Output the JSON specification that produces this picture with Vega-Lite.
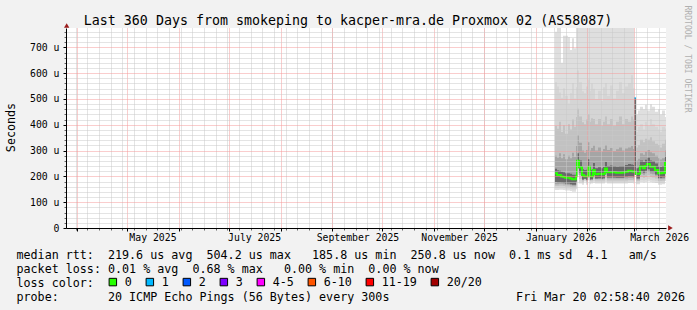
{
  "$schema": "https://vega.github.io/schema/vega-lite/v6.json",
  "width": 600,
  "height": 200,
  "autosize": {"type": "none"},
  "padding": {"left": 66, "top": 28, "right": 31, "bottom": 82},
  "background": "#f2f2f2",
  "config": {
    "view": {"stroke": null, "fill": "#ffffff"},
    "font": "DejaVu Sans Mono",
    "axis": {"labelFont": "DejaVu Sans Mono", "titleFont": "DejaVu Sans Mono", "titleFontWeight": "normal", "titleColor": "#000000", "labelColor": "#000000"}
  },
  "datasets": {
    "smoke": [
      {"t": "2026-01-12T12:00:00Z", "b1": 147, "b2": 155, "b3": 163, "b4": 170, "b5": 178, "m": 212, "t5": 230, "t4": 280, "t3": 395, "t2": 565, "t1": 760, "loss": "0"},
      {"t": "2026-01-13T17:00:00Z", "b1": 147, "b2": 155, "b3": 163, "b4": 170, "b5": 176, "m": 205, "t5": 224, "t4": 272, "t3": 385, "t2": 548, "t1": 775, "loss": "0"},
      {"t": "2026-01-14T22:00:00Z", "b1": 148, "b2": 156, "b3": 164, "b4": 171, "b5": 176, "m": 205, "t5": 222, "t4": 290, "t3": 412, "t2": 525, "t1": 775, "loss": "0"},
      {"t": "2026-01-16T03:00:00Z", "b1": 148, "b2": 156, "b3": 164, "b4": 171, "b5": 175, "m": 200, "t5": 218, "t4": 270, "t3": 372, "t2": 505, "t1": 640, "loss": "0"},
      {"t": "2026-01-17T08:00:00Z", "b1": 147, "b2": 155, "b3": 163, "b4": 170, "b5": 174, "m": 198, "t5": 216, "t4": 286, "t3": 398, "t2": 542, "t1": 745, "loss": "0"},
      {"t": "2026-01-18T12:00:00Z", "b1": 145, "b2": 153, "b3": 161, "b4": 168, "b5": 172, "m": 195, "t5": 212, "t4": 266, "t3": 365, "t2": 512, "t1": 745, "loss": "0"},
      {"t": "2026-01-20T08:00:00Z", "b1": 145, "b2": 153, "b3": 161, "b4": 168, "b5": 172, "m": 195, "t5": 212, "t4": 280, "t3": 402, "t2": 482, "t1": 740, "loss": "0"},
      {"t": "2026-01-21T12:00:00Z", "b1": 143, "b2": 151, "b3": 159, "b4": 166, "b5": 170, "m": 192, "t5": 210, "t4": 270, "t3": 382, "t2": 522, "t1": 690, "loss": "0"},
      {"t": "2026-01-22T17:00:00Z", "b1": 140, "b2": 149, "b3": 157, "b4": 164, "b5": 168, "m": 189, "t5": 206, "t4": 292, "t3": 420, "t2": 562, "t1": 735, "loss": "0"},
      {"t": "2026-01-23T22:00:00Z", "b1": 140, "b2": 149, "b3": 157, "b4": 164, "b5": 168, "m": 189, "t5": 206, "t4": 275, "t3": 392, "t2": 502, "t1": 697, "loss": "0"},
      {"t": "2026-01-25T03:00:00Z", "b1": 150, "b2": 158, "b3": 166, "b4": 174, "b5": 180, "m": 201, "t5": 225, "t4": 318, "t3": 430, "t2": 545, "t1": 775, "loss": "0"},
      {"t": "2026-01-25T17:00:00Z", "b1": 205, "b2": 215, "b3": 228, "b4": 238, "b5": 245, "m": 261, "t5": 290, "t4": 360, "t3": 462, "t2": 610, "t1": 775, "loss": "0"},
      {"t": "2026-01-26T22:00:00Z", "b1": 172, "b2": 180, "b3": 190, "b4": 205, "b5": 215, "m": 235, "t5": 262, "t4": 330, "t3": 432, "t2": 565, "t1": 775, "loss": "0"},
      {"t": "2026-01-28T17:00:00Z", "b1": 168, "b2": 174, "b3": 180, "b4": 186, "b5": 188, "m": 205, "t5": 228, "t4": 300, "t3": 410, "t2": 530, "t1": 775, "loss": "0"},
      {"t": "2026-01-29T22:00:00Z", "b1": 180, "b2": 184, "b3": 188, "b4": 190, "b5": 191, "m": 201, "t5": 225, "t4": 292, "t3": 402, "t2": 522, "t1": 775, "loss": "0"},
      {"t": "2026-01-31T03:00:00Z", "b1": 168, "b2": 174, "b3": 180, "b4": 185, "b5": 187, "m": 201, "t5": 226, "t4": 302, "t3": 420, "t2": 548, "t1": 775, "loss": "0"},
      {"t": "2026-02-01T08:00:00Z", "b1": 185, "b2": 195, "b3": 208, "b4": 220, "b5": 225, "m": 237, "t5": 266, "t4": 332, "t3": 442, "t2": 575, "t1": 775, "loss": "0"},
      {"t": "2026-02-02T12:00:00Z", "b1": 170, "b2": 176, "b3": 182, "b4": 186, "b5": 188, "m": 201, "t5": 228, "t4": 300, "t3": 412, "t2": 532, "t1": 775, "loss": "0"},
      {"t": "2026-02-03T03:00:00Z", "b1": 172, "b2": 178, "b3": 184, "b4": 187, "b5": 189, "m": 201, "t5": 226, "t4": 310, "t3": 425, "t2": 560, "t1": 775, "loss": "0"},
      {"t": "2026-02-04T08:00:00Z", "b1": 175, "b2": 182, "b3": 190, "b4": 200, "b5": 208, "m": 225, "t5": 252, "t4": 320, "t3": 422, "t2": 540, "t1": 775, "loss": "0"},
      {"t": "2026-02-05T12:00:00Z", "b1": 172, "b2": 178, "b3": 184, "b4": 190, "b5": 192, "m": 208, "t5": 232, "t4": 300, "t3": 402, "t2": 500, "t1": 775, "loss": "0"},
      {"t": "2026-02-07T08:00:00Z", "b1": 172, "b2": 178, "b3": 184, "b4": 190, "b5": 193, "m": 210, "t5": 235, "t4": 312, "t3": 422, "t2": 532, "t1": 775, "loss": "0"},
      {"t": "2026-02-09T03:00:00Z", "b1": 172, "b2": 178, "b3": 184, "b4": 189, "b5": 191, "m": 208, "t5": 232, "t4": 296, "t3": 396, "t2": 492, "t1": 775, "loss": "0"},
      {"t": "2026-02-10T08:00:00Z", "b1": 172, "b2": 178, "b3": 184, "b4": 190, "b5": 193, "m": 210, "t5": 236, "t4": 306, "t3": 412, "t2": 545, "t1": 775, "loss": "0"},
      {"t": "2026-02-11T12:00:00Z", "b1": 178, "b2": 185, "b3": 195, "b4": 206, "b5": 215, "m": 231, "t5": 256, "t4": 322, "t3": 432, "t2": 562, "t1": 775, "loss": "0"},
      {"t": "2026-02-12T17:00:00Z", "b1": 172, "b2": 178, "b3": 184, "b4": 192, "b5": 196, "m": 216, "t5": 240, "t4": 302, "t3": 402, "t2": 512, "t1": 775, "loss": "0"},
      {"t": "2026-02-14T12:00:00Z", "b1": 172, "b2": 178, "b3": 184, "b4": 192, "b5": 196, "m": 216, "t5": 242, "t4": 310, "t3": 422, "t2": 552, "t1": 775, "loss": "0"},
      {"t": "2026-02-16T08:00:00Z", "b1": 172, "b2": 178, "b3": 184, "b4": 192, "b5": 196, "m": 216, "t5": 240, "t4": 298, "t3": 396, "t2": 502, "t1": 775, "loss": "0"},
      {"t": "2026-02-18T03:00:00Z", "b1": 172, "b2": 178, "b3": 184, "b4": 192, "b5": 195, "m": 214, "t5": 238, "t4": 305, "t3": 412, "t2": 532, "t1": 775, "loss": "0"},
      {"t": "2026-02-19T22:00:00Z", "b1": 172, "b2": 178, "b3": 184, "b4": 192, "b5": 195, "m": 214, "t5": 240, "t4": 312, "t3": 432, "t2": 565, "t1": 775, "loss": "0"},
      {"t": "2026-02-21T17:00:00Z", "b1": 172, "b2": 178, "b3": 184, "b4": 192, "b5": 195, "m": 215, "t5": 240, "t4": 300, "t3": 402, "t2": 522, "t1": 775, "loss": "0"},
      {"t": "2026-02-23T12:00:00Z", "b1": 172, "b2": 178, "b3": 184, "b4": 192, "b5": 198, "m": 218, "t5": 244, "t4": 308, "t3": 422, "t2": 548, "t1": 775, "loss": "0"},
      {"t": "2026-02-25T08:00:00Z", "b1": 174, "b2": 180, "b3": 186, "b4": 194, "b5": 200, "m": 222, "t5": 248, "t4": 312, "t3": 412, "t2": 562, "t1": 775, "loss": "0"},
      {"t": "2026-02-27T03:00:00Z", "b1": 174, "b2": 180, "b3": 186, "b4": 194, "b5": 200, "m": 220, "t5": 246, "t4": 318, "t3": 432, "t2": 592, "t1": 775, "loss": "0"},
      {"t": "2026-02-28T08:00:00Z", "b1": 172, "b2": 178, "b3": 184, "b4": 192, "b5": 198, "m": 218, "t5": 244, "t4": 306, "t3": 420, "t2": 542, "t1": 775, "loss": "0"},
      {"t": "2026-03-01T02:00:00Z", "b1": 205, "b2": 205, "b3": 205, "b4": 205, "b5": 205, "m": 504, "t5": 504, "t4": 504, "t3": 504, "t2": 504, "t1": 504, "loss": "1"},
      {"t": "2026-03-01T22:00:00Z", "b1": 205, "b2": 205, "b3": 205, "b4": 205, "b5": 205, "m": 504, "t5": 504, "t4": 504, "t3": 504, "t2": 504, "t1": 504, "loss": "1"},
      {"t": "2026-03-02T03:00:00Z", "b1": 170, "b2": 176, "b3": 182, "b4": 188, "b5": 192, "m": 210, "t5": 232, "t4": 262, "t3": 312, "t2": 372, "t1": 440, "loss": "0"},
      {"t": "2026-03-03T08:00:00Z", "b1": 170, "b2": 176, "b3": 182, "b4": 188, "b5": 192, "m": 210, "t5": 234, "t4": 268, "t3": 322, "t2": 392, "t1": 455, "loss": "0"},
      {"t": "2026-03-04T12:00:00Z", "b1": 178, "b2": 186, "b3": 198, "b4": 210, "b5": 220, "m": 238, "t5": 262, "t4": 290, "t3": 342, "t2": 402, "t1": 470, "loss": "0"},
      {"t": "2026-03-06T08:00:00Z", "b1": 176, "b2": 184, "b3": 195, "b4": 206, "b5": 214, "m": 232, "t5": 256, "t4": 284, "t3": 332, "t2": 382, "t1": 460, "loss": "0"},
      {"t": "2026-03-07T12:00:00Z", "b1": 178, "b2": 186, "b3": 198, "b4": 212, "b5": 222, "m": 240, "t5": 264, "t4": 295, "t3": 346, "t2": 412, "t1": 478, "loss": "0"},
      {"t": "2026-03-08T17:00:00Z", "b1": 180, "b2": 190, "b3": 204, "b4": 218, "b5": 228, "m": 248, "t5": 272, "t4": 302, "t3": 342, "t2": 396, "t1": 455, "loss": "0"},
      {"t": "2026-03-10T12:00:00Z", "b1": 178, "b2": 186, "b3": 198, "b4": 210, "b5": 218, "m": 237, "t5": 262, "t4": 294, "t3": 352, "t2": 422, "t1": 480, "loss": "0"},
      {"t": "2026-03-11T17:00:00Z", "b1": 176, "b2": 184, "b3": 196, "b4": 208, "b5": 218, "m": 237, "t5": 260, "t4": 290, "t3": 336, "t2": 402, "t1": 470, "loss": "0"},
      {"t": "2026-03-13T12:00:00Z", "b1": 174, "b2": 182, "b3": 192, "b4": 202, "b5": 207, "m": 225, "t5": 250, "t4": 280, "t3": 326, "t2": 392, "t1": 450, "loss": "0"},
      {"t": "2026-03-15T08:00:00Z", "b1": 168, "b2": 175, "b3": 182, "b4": 190, "b5": 194, "m": 212, "t5": 238, "t4": 270, "t3": 322, "t2": 382, "t1": 460, "loss": "0"},
      {"t": "2026-03-16T12:00:00Z", "b1": 168, "b2": 175, "b3": 182, "b4": 190, "b5": 194, "m": 212, "t5": 236, "t4": 265, "t3": 312, "t2": 372, "t1": 440, "loss": "0"},
      {"t": "2026-03-17T17:00:00Z", "b1": 170, "b2": 176, "b3": 183, "b4": 191, "b5": 196, "m": 214, "t5": 240, "t4": 270, "t3": 326, "t2": 392, "t1": 455, "loss": "0"},
      {"t": "2026-03-19T12:00:00Z", "b1": 182, "b2": 192, "b3": 206, "b4": 222, "b5": 232, "m": 252, "t5": 276, "t4": 300, "t3": 342, "t2": 386, "t1": 430, "loss": "0"},
      {"t": "2026-03-20T02:58:40Z", "b1": 182, "b2": 192, "b3": 206, "b4": 222, "b5": 232, "m": 252, "t5": 276, "t4": 300, "t3": 342, "t2": 386, "t1": 430, "loss": "0"}
    ],
    "arrowX": [{"t": "2026-03-22T19:00:00Z", "v": 0}],
    "arrowY": [{"t": "2025-03-25T12:40:00Z", "v": 785}]
  },
  "resolve": {"axis": {"x": "independent", "y": "independent"}},
  "layer": [
    {
      "data": {"name": "smoke"},
      "mark": {"type": "area", "interpolate": "step-after", "color": "#dfdfdf", "opacity": 1},
      "encoding": {
        "x": {"field": "t", "type": "temporal",
          "scale": {"type": "utc", "nice": false, "domain": [{"year": 2025, "month": 3, "date": 25, "hours": 2, "minutes": 58, "seconds": 40, "utc": true}, {"year": 2026, "month": 3, "date": 20, "hours": 2, "minutes": 58, "seconds": 40, "utc": true}]},
          "axis": {"orient": "bottom", "title": null, "labels": false, "domain": false, "ticks": true, "tickSize": 2, "tickColor": "#666666", "grid": true, "gridColor": "#c8c8c8", "gridDash": [1, 1], "gridWidth": 1, "zindex": 1,
            "values": [
              {"year": 2025, "month": 3, "date": 31, "utc": true}, {"year": 2025, "month": 4, "date": 7, "utc": true}, {"year": 2025, "month": 4, "date": 14, "utc": true}, {"year": 2025, "month": 4, "date": 21, "utc": true}, {"year": 2025, "month": 4, "date": 28, "utc": true},
              {"year": 2025, "month": 5, "date": 5, "utc": true}, {"year": 2025, "month": 5, "date": 12, "utc": true}, {"year": 2025, "month": 5, "date": 19, "utc": true}, {"year": 2025, "month": 5, "date": 26, "utc": true},
              {"year": 2025, "month": 6, "date": 2, "utc": true}, {"year": 2025, "month": 6, "date": 9, "utc": true}, {"year": 2025, "month": 6, "date": 16, "utc": true}, {"year": 2025, "month": 6, "date": 23, "utc": true}, {"year": 2025, "month": 6, "date": 30, "utc": true},
              {"year": 2025, "month": 7, "date": 7, "utc": true}, {"year": 2025, "month": 7, "date": 14, "utc": true}, {"year": 2025, "month": 7, "date": 21, "utc": true}, {"year": 2025, "month": 7, "date": 28, "utc": true},
              {"year": 2025, "month": 8, "date": 4, "utc": true}, {"year": 2025, "month": 8, "date": 11, "utc": true}, {"year": 2025, "month": 8, "date": 18, "utc": true}, {"year": 2025, "month": 8, "date": 25, "utc": true},
              {"year": 2025, "month": 9, "date": 1, "utc": true}, {"year": 2025, "month": 9, "date": 8, "utc": true}, {"year": 2025, "month": 9, "date": 15, "utc": true}, {"year": 2025, "month": 9, "date": 22, "utc": true}, {"year": 2025, "month": 9, "date": 29, "utc": true},
              {"year": 2025, "month": 10, "date": 6, "utc": true}, {"year": 2025, "month": 10, "date": 13, "utc": true}, {"year": 2025, "month": 10, "date": 20, "utc": true}, {"year": 2025, "month": 10, "date": 27, "utc": true},
              {"year": 2025, "month": 11, "date": 3, "utc": true}, {"year": 2025, "month": 11, "date": 10, "utc": true}, {"year": 2025, "month": 11, "date": 17, "utc": true}, {"year": 2025, "month": 11, "date": 24, "utc": true},
              {"year": 2025, "month": 12, "date": 1, "utc": true}, {"year": 2025, "month": 12, "date": 8, "utc": true}, {"year": 2025, "month": 12, "date": 15, "utc": true}, {"year": 2025, "month": 12, "date": 22, "utc": true}, {"year": 2025, "month": 12, "date": 29, "utc": true},
              {"year": 2026, "month": 1, "date": 5, "utc": true}, {"year": 2026, "month": 1, "date": 12, "utc": true}, {"year": 2026, "month": 1, "date": 19, "utc": true}, {"year": 2026, "month": 1, "date": 26, "utc": true},
              {"year": 2026, "month": 2, "date": 2, "utc": true}, {"year": 2026, "month": 2, "date": 9, "utc": true}, {"year": 2026, "month": 2, "date": 16, "utc": true}, {"year": 2026, "month": 2, "date": 23, "utc": true},
              {"year": 2026, "month": 3, "date": 2, "utc": true}, {"year": 2026, "month": 3, "date": 9, "utc": true}, {"year": 2026, "month": 3, "date": 16, "utc": true}
            ]}},
        "y": {"field": "b1", "type": "quantitative",
          "scale": {"domain": [0, 775], "nice": false, "zero": false},
          "axis": {"orient": "left", "title": null, "labels": false, "domain": false, "ticks": true, "tickSize": 2, "tickColor": "#666666", "grid": true, "gridColor": "#c8c8c8", "gridDash": [1, 1], "gridWidth": 1, "zindex": 1,
            "values": [20, 40, 60, 80, 120, 140, 160, 180, 220, 240, 260, 280, 320, 340, 360, 380, 420, 440, 460, 480, 520, 540, 560, 580, 620, 640, 660, 680, 720, 740, 760]}},
        "y2": {"field": "t1"}
      }
    },
    {
      "data": {"name": "smoke"},
      "mark": {"type": "area", "interpolate": "step-after", "color": "#d5d5d5", "opacity": 1},
      "encoding": {
        "x": {"field": "t", "type": "temporal",
          "axis": {"orient": "bottom", "title": null, "labels": false, "domain": true, "domainColor": "#000000", "domainWidth": 1, "ticks": true, "tickSize": 3, "tickColor": "#000000", "grid": true, "gridColor": "#f49a9a", "gridDash": [1, 1], "gridWidth": 1, "zindex": 1,
            "values": [
              {"year": 2025, "month": 4, "date": 1, "utc": true}, {"year": 2025, "month": 5, "date": 1, "utc": true}, {"year": 2025, "month": 6, "date": 1, "utc": true}, {"year": 2025, "month": 7, "date": 1, "utc": true},
              {"year": 2025, "month": 8, "date": 1, "utc": true}, {"year": 2025, "month": 9, "date": 1, "utc": true}, {"year": 2025, "month": 10, "date": 1, "utc": true}, {"year": 2025, "month": 11, "date": 1, "utc": true},
              {"year": 2025, "month": 12, "date": 1, "utc": true}, {"year": 2026, "month": 1, "date": 1, "utc": true}, {"year": 2026, "month": 2, "date": 1, "utc": true}, {"year": 2026, "month": 3, "date": 1, "utc": true}
            ]}},
        "y": {"field": "b2", "type": "quantitative",
          "axis": {"orient": "left", "values": [0, 100, 200, 300, 400, 500, 600, 700],
            "labelExpr": "datum.value == 0 ? '0' : datum.value + ' u'",
            "labelFont": "DejaVu Sans Mono", "labelFontSize": 9.8, "labelPadding": 4, "labelBaseline": "middle",
            "domain": true, "domainColor": "#000000", "domainWidth": 1, "ticks": true, "tickSize": 3, "tickColor": "#000000",
            "grid": true, "gridColor": {"condition": {"test": "datum.value === 0", "value": "transparent"}, "value": "#f49a9a"}, "gridDash": [1, 1], "gridWidth": 1, "zindex": 1,
            "title": "Seconds", "titleFontSize": 11.7, "titleAngle": 270, "titleX": -56, "titleY": 99, "titleAlign": "center", "titleBaseline": "middle"}},
        "y2": {"field": "t2"}
      }
    },
    {
      "data": {"name": "smoke"},
      "mark": {"type": "area", "interpolate": "step-after", "color": "#c2c2c2", "opacity": 1},
      "encoding": {
        "x": {"field": "t", "type": "temporal",
          "axis": {"orient": "bottom", "grid": false, "ticks": false, "domain": false, "labelFlush": false, "labelOverlap": false, "labelBound": false,
            "labelExpr": "utcFormat(datum.value, '%B %Y')", "labelFontSize": 9.8, "labelPadding": 4, "labelAlign": "center", "zindex": 1,
            "values": [
              {"year": 2025, "month": 5, "date": 16, "utc": true}, {"year": 2025, "month": 7, "date": 16, "utc": true}, {"year": 2025, "month": 9, "date": 16, "utc": true},
              {"year": 2025, "month": 11, "date": 16, "utc": true}, {"year": 2026, "month": 1, "date": 16, "utc": true}, {"year": 2026, "month": 3, "date": 16, "utc": true}
            ],
            "title": [
              "median rtt:\u00a0\u00a0219.6 us avg\u00a0\u00a0504.2 us max\u00a0\u00a0\u00a0185.8 us min\u00a0\u00a0250.8 us now\u00a0\u00a00.1 ms sd\u00a0\u00a04.1\u00a0\u00a0\u00a0am/s",
              "packet loss: 0.01 % avg\u00a0\u00a00.68 % max\u00a0\u00a0\u00a00.00 % min\u00a0\u00a00.00 % now",
              "loss color:",
              "probe:\u00a0\u00a0\u00a0\u00a0\u00a0\u00a0\u00a020 ICMP Echo Pings (56 Bytes) every 300s\u00a0\u00a0\u00a0\u00a0\u00a0\u00a0\u00a0\u00a0\u00a0\u00a0\u00a0\u00a0\u00a0\u00a0\u00a0\u00a0\u00a0\u00a0Fri Mar 20 02:58:40 2026"
            ],
            "titleFontSize": 11.7, "titleX": -50, "titleY": 21, "titleAlign": "left", "titleBaseline": "top", "titleLineHeight": 14, "titleAngle": 0, "titleLimit": 2000}},
        "y": {"field": "b3", "type": "quantitative",
          "axis": {"orient": "right", "labels": false, "ticks": false, "domain": false, "grid": false,
            "title": "RRDTOOL / TOBI OETIKER", "titleFontSize": 8.1, "titleColor": "#b0b0b0", "titleAngle": 90, "titleX": 20.5, "titleY": -23, "titleAlign": "left", "titleBaseline": "middle", "titleLimit": 500}},
        "y2": {"field": "t3"}
      }
    },
    {
      "data": {"name": "smoke"},
      "mark": {"type": "area", "interpolate": "step-after", "color": "#a5a5a5", "opacity": 1},
      "encoding": {
        "x": {"field": "t", "type": "temporal",
          "axis": {"orient": "top", "labels": false, "ticks": false, "domain": false, "grid": false,
            "title": "Last 360 Days from smokeping to kacper-mra.de Proxmox 02 (AS58087)",
            "titleFontSize": 13.3, "titleX": 281.5, "titleY": -4, "titleAlign": "center", "titleBaseline": "alphabetic", "titleAngle": 0, "titleLimit": 2000}},
        "y": {"field": "b4", "type": "quantitative", "axis": null},
        "y2": {"field": "t4"}
      }
    },
    {
      "data": {"name": "smoke"},
      "mark": {"type": "area", "interpolate": "step-after", "color": "#696969", "opacity": 1},
      "encoding": {
        "x": {"field": "t", "type": "temporal", "axis": null},
        "y": {"field": "b5", "type": "quantitative", "axis": null},
        "y2": {"field": "t5"}
      }
    },
    {
      "data": {"name": "smoke"},
      "mark": {"type": "line", "interpolate": "step-after", "strokeWidth": 2},
      "encoding": {
        "x": {"field": "t", "type": "temporal", "axis": null},
        "y": {"field": "m", "type": "quantitative", "axis": null},
        "stroke": {"field": "loss", "type": "nominal",
          "scale": {"domain": ["0", "1"], "range": ["#26ff00", "#00b8ff"]},
          "legend": null}
      }
    },
    {
      "data": {"name": "smoke"},
      "mark": {"type": "point", "shape": "square", "filled": true, "opacity": 0},
      "encoding": {
        "x": {"field": "t", "type": "temporal", "axis": null},
        "y": {"field": "m", "type": "quantitative", "axis": null},
        "fill": {"field": "loss", "type": "nominal",
          "scale": {"domain": ["0", "1", "2", "3", "4-5", "6-10", "11-19", "20/20"], "range": ["#26ff00", "#00b8ff", "#0059ff", "#7e00ff", "#ff00ff", "#ff5500", "#ff0000", "#a10000"]},
          "legend": {"orient": "none", "legendX": 41, "legendY": 248, "direction": "horizontal", "columns": 8, "title": null,
            "symbolType": "square", "symbolSize": 56, "symbolStrokeColor": "#000000", "symbolStrokeWidth": 1, "symbolOpacity": 1,
            "labelFont": "DejaVu Sans Mono", "labelFontSize": 11.7, "labelColor": "#000000", "labelOffset": 6, "columnPadding": 12, "padding": 0}}
      }
    },
    {
      "data": {"name": "arrowX"},
      "mark": {"type": "point", "shape": "triangle-right", "filled": true, "size": 28, "color": "#9b1c1c", "opacity": 1},
      "encoding": {
        "x": {"field": "t", "type": "temporal", "axis": null},
        "y": {"field": "v", "type": "quantitative", "axis": null}
      }
    },
    {
      "data": {"name": "arrowY"},
      "mark": {"type": "point", "shape": "triangle-up", "filled": true, "size": 28, "color": "#9b1c1c", "opacity": 1},
      "encoding": {
        "x": {"field": "t", "type": "temporal", "axis": null},
        "y": {"field": "v", "type": "quantitative", "axis": null}
      }
    }
  ]
}
